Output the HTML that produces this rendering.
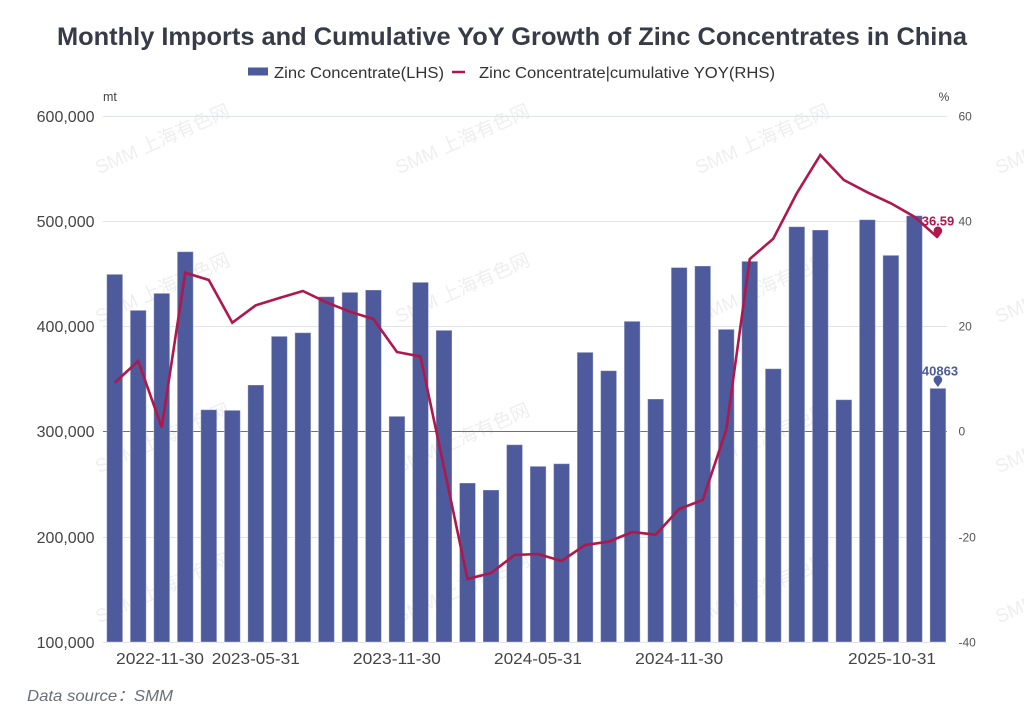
<!DOCTYPE html>
<html><head><meta charset="utf-8"><style>
html,body{margin:0;padding:0;background:#fff;}
svg{display:block;font-family:"Liberation Sans","Noto Sans CJK SC",sans-serif;}
</style></head><body>
<svg width="1024" height="722" viewBox="0 0 1024 722" xmlns="http://www.w3.org/2000/svg">
<rect width="1024" height="722" fill="#fff"/>
<!-- watermarks -->
<g fill="#000" fill-opacity="0.065" font-size="19" font-family="Liberation Sans, Noto Sans CJK SC, sans-serif" text-anchor="middle">
<text transform="translate(165,145) rotate(-24)">SMM 上海有色网</text>
<text transform="translate(465,145) rotate(-24)">SMM 上海有色网</text>
<text transform="translate(765,145) rotate(-24)">SMM 上海有色网</text>
<text transform="translate(1065,145) rotate(-24)">SMM 上海有色网</text>
<text transform="translate(165,294) rotate(-24)">SMM 上海有色网</text>
<text transform="translate(465,294) rotate(-24)">SMM 上海有色网</text>
<text transform="translate(765,294) rotate(-24)">SMM 上海有色网</text>
<text transform="translate(1065,294) rotate(-24)">SMM 上海有色网</text>
<text transform="translate(165,444) rotate(-24)">SMM 上海有色网</text>
<text transform="translate(465,444) rotate(-24)">SMM 上海有色网</text>
<text transform="translate(765,444) rotate(-24)">SMM 上海有色网</text>
<text transform="translate(1065,444) rotate(-24)">SMM 上海有色网</text>
<text transform="translate(165,594) rotate(-24)">SMM 上海有色网</text>
<text transform="translate(465,594) rotate(-24)">SMM 上海有色网</text>
<text transform="translate(765,594) rotate(-24)">SMM 上海有色网</text>
<text transform="translate(1065,594) rotate(-24)">SMM 上海有色网</text>
</g>
<!-- title -->
<text x="512" y="45" text-anchor="middle" font-size="25" font-weight="bold" fill="#363b47" textLength="910" lengthAdjust="spacingAndGlyphs">Monthly Imports and Cumulative YoY Growth of Zinc Concentrates in China</text>
<!-- legend -->
<rect x="248" y="67.5" width="20" height="8" fill="#4d5a9b"/>
<text x="274" y="78" font-size="16" fill="#333" textLength="170" lengthAdjust="spacingAndGlyphs">Zinc Concentrate(LHS)</text>
<line x1="452" y1="72" x2="465" y2="72" stroke="#b0174a" stroke-width="2.5"/>
<text x="479" y="78" font-size="16" fill="#333" textLength="296" lengthAdjust="spacingAndGlyphs">Zinc Concentrate|cumulative YOY(RHS)</text>
<!-- axis names -->
<text x="103" y="101" font-size="12.5" fill="#444">mt</text>
<text x="944" y="101" font-size="12" fill="#444" text-anchor="middle">%</text>
<!-- grid -->
<g stroke="#e0e3ec" stroke-width="1">
<line x1="103" y1="116.5" x2="947" y2="116.5"/>
<line x1="103" y1="221.5" x2="947" y2="221.5"/>
<line x1="103" y1="326.5" x2="947" y2="326.5"/>
<line x1="103" y1="537.5" x2="947" y2="537.5"/>
<line x1="103" y1="642.5" x2="947" y2="642.5"/>
</g>
<line x1="103" y1="431.5" x2="947" y2="431.5" stroke="#6e7079" stroke-width="1"/>
<!-- left labels -->
<g font-size="16" fill="#444" text-anchor="end">
<text x="94.5" y="122">600,000</text>
<text x="94.5" y="227">500,000</text>
<text x="94.5" y="332">400,000</text>
<text x="94.5" y="437">300,000</text>
<text x="94.5" y="543">200,000</text>
<text x="94.5" y="648">100,000</text>
</g>
<!-- right labels -->
<g font-size="12" fill="#555">
<text x="958.5" y="120.5">60</text>
<text x="958.5" y="225.5">40</text>
<text x="958.5" y="330.5">20</text>
<text x="958.5" y="435.5">0</text>
<text x="958.5" y="541.5">-20</text>
<text x="958.5" y="646.5">-40</text>
</g>
<!-- bars -->
<g fill="#4d5a9b" stroke="#ffffff" stroke-opacity="0.35" stroke-width="1">
<rect x="106.70" y="274.3" width="16" height="367.7"/>
<rect x="130.22" y="310.3" width="16" height="331.7"/>
<rect x="153.74" y="293.3" width="16" height="348.7"/>
<rect x="177.26" y="251.7" width="16" height="390.3"/>
<rect x="200.78" y="409.7" width="16" height="232.3"/>
<rect x="224.30" y="410.3" width="16" height="231.7"/>
<rect x="247.82" y="385.0" width="16" height="257.0"/>
<rect x="271.34" y="336.3" width="16" height="305.7"/>
<rect x="294.86" y="332.7" width="16" height="309.3"/>
<rect x="318.38" y="296.7" width="16" height="345.3"/>
<rect x="341.90" y="292.3" width="16" height="349.7"/>
<rect x="365.42" y="290.0" width="16" height="352.0"/>
<rect x="388.94" y="416.3" width="16" height="225.7"/>
<rect x="412.46" y="282.3" width="16" height="359.7"/>
<rect x="435.98" y="330.3" width="16" height="311.7"/>
<rect x="459.50" y="483.0" width="16" height="159.0"/>
<rect x="483.02" y="490.0" width="16" height="152.0"/>
<rect x="506.54" y="444.7" width="16" height="197.3"/>
<rect x="530.06" y="466.3" width="16" height="175.7"/>
<rect x="553.58" y="463.7" width="16" height="178.3"/>
<rect x="577.10" y="352.3" width="16" height="289.7"/>
<rect x="600.62" y="370.7" width="16" height="271.3"/>
<rect x="624.14" y="321.3" width="16" height="320.7"/>
<rect x="647.66" y="399.0" width="16" height="243.0"/>
<rect x="671.18" y="267.5" width="16" height="374.5"/>
<rect x="694.70" y="266.0" width="16" height="376.0"/>
<rect x="718.22" y="329.3" width="16" height="312.7"/>
<rect x="741.74" y="261.3" width="16" height="380.7"/>
<rect x="765.26" y="368.7" width="16" height="273.3"/>
<rect x="788.78" y="226.7" width="16" height="415.3"/>
<rect x="812.30" y="230.0" width="16" height="412.0"/>
<rect x="835.82" y="399.7" width="16" height="242.3"/>
<rect x="859.34" y="219.7" width="16" height="422.3"/>
<rect x="882.86" y="255.3" width="16" height="386.7"/>
<rect x="906.38" y="215.7" width="16" height="426.3"/>
<rect x="929.90" y="388.3" width="16" height="253.7"/>
</g>
<!-- line -->
<polyline fill="none" stroke="#b0174a" stroke-width="2.6" stroke-linejoin="miter" points="114.70,382.7 138.22,361.0 161.74,427.3 185.26,272.7 208.78,280.0 232.30,322.7 255.82,305.3 279.34,298.0 302.86,291.0 326.38,302.3 349.90,311.7 373.42,319.0 396.94,352.0 420.46,356.5 443.98,467.5 467.50,579.0 491.02,573.0 514.54,555.0 538.06,554.0 561.58,561.0 585.10,545.0 608.62,541.7 632.14,532.0 655.66,534.7 679.18,509.0 702.70,500.0 726.22,430.0 749.74,259.0 773.26,238.7 796.78,193.3 820.30,155.0 843.82,180.0 867.34,192.3 890.86,203.3 914.38,216.7 937.90,237.7"/>
<!-- markers -->
<path d="M937.9,238 L934.4,233.3 A4.3,4.3 0 1 1 941.4,233.3 Z" fill="#b0174a"/>
<text x="938" y="225.5" font-size="13" font-weight="bold" fill="#b0174a" text-anchor="middle">36.59</text>
<path d="M937.9,387 L934.4,382.3 A4.3,4.3 0 1 1 941.4,382.3 Z" fill="#4d5a9b"/>
<text x="940" y="375.5" font-size="13" font-weight="bold" fill="#4d5a9b" text-anchor="middle">40863</text>
<!-- x labels -->
<g font-size="16" fill="#444" text-anchor="middle">
<text x="160" y="664" textLength="88" lengthAdjust="spacingAndGlyphs">2022-11-30</text>
<text x="255.8" y="664" textLength="88" lengthAdjust="spacingAndGlyphs">2023-05-31</text>
<text x="396.9" y="664" textLength="88" lengthAdjust="spacingAndGlyphs">2023-11-30</text>
<text x="538" y="664" textLength="88" lengthAdjust="spacingAndGlyphs">2024-05-31</text>
<text x="679.2" y="664" textLength="88" lengthAdjust="spacingAndGlyphs">2024-11-30</text>
<text x="892" y="664" textLength="88" lengthAdjust="spacingAndGlyphs">2025-10-31</text>
</g>
<!-- source -->
<text x="27" y="701" font-size="16" font-style="italic" fill="#6b6e78" textLength="146" lengthAdjust="spacingAndGlyphs">Data source：SMM</text>
</svg>
</body></html>
